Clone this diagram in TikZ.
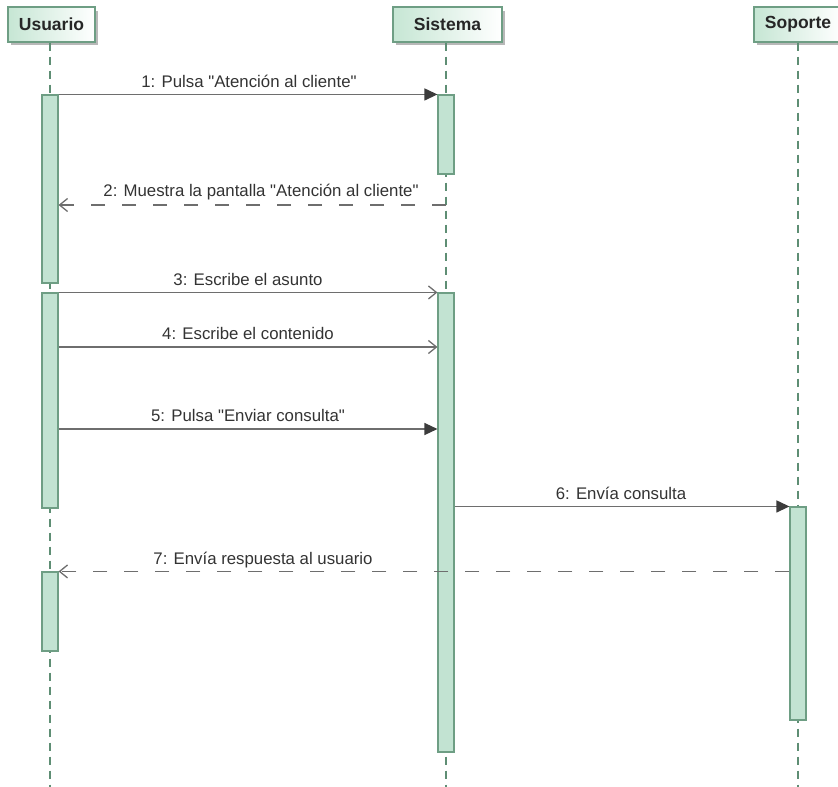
\documentclass[tikz,border=0pt]{standalone}
\usepackage{fontspec}
\setmainfont{Liberation Sans}[Ligatures=TeXOff]
\usetikzlibrary{arrows.meta,calc}

\definecolor{barfill}{HTML}{C2E3D2}
\definecolor{barline}{HTML}{6E9E84}
\definecolor{headfill}{HTML}{C6E6D4}
\definecolor{lifecol}{HTML}{5E8E74}
\definecolor{msgcol}{HTML}{6E6E6E}
\definecolor{tipcol}{HTML}{3C3C3C}
\definecolor{txtcol}{HTML}{333333}

\tikzset{
  header/.style={draw=barline, line width=1.2pt, left color=headfill, right color=white,
    minimum height=35pt, inner sep=0pt, text=black!85,
    font=\fontsize{17.5}{20}\selectfont\bfseries},
  headshadow/.style={fill=black!28, draw=none},
  lifeline/.style={draw=lifecol, line width=1.3pt, dash pattern=on 8pt off 6pt},
  bar/.style={draw=barline, fill=barfill, line width=1.1pt, minimum width=16pt, inner sep=0pt},
  call/.style={draw=msgcol, line width=1.3pt, -{Triangle[length=13pt,width=12pt,fill=tipcol,color=tipcol]}},
  callopen/.style={draw=msgcol, line width=1.3pt, -{Straight Barb[length=8pt,width=13pt,line width=1.3pt]}},
  reply/.style={draw=msgcol, line width=1.3pt, dash pattern=on 14pt off 17pt,
    -{Straight Barb[length=8pt,width=13pt,line width=1.3pt]}},
  msglabel/.style={anchor=base, inner sep=0pt, text=txtcol, font=\fontsize{16.8}{19}\selectfont}
}

\begin{document}
\begin{tikzpicture}[x=1pt,y=-1pt]
\useasboundingbox (0,0) rectangle (838,787);
\clip (0,0) rectangle (838,787);

% header boxes with their drop shadows
\fill[headshadow] (11,11) rectangle (98,45);
\fill[headshadow] (396,11) rectangle (505,45);
\fill[headshadow] (757,11) rectangle (845,45);
\node[header, minimum width=87pt] (usuario) at (51.5,24.5) {Usuario};
\node[header, minimum width=109pt] (sistema) at (447.5,24.5) {Sistema};
\node[header, minimum width=88pt] (soporte) at (798,24.5) {Soporte};

% lifelines
\coordinate (uend) at (50,787);
\coordinate (send) at (446,787);
\coordinate (pend) at (798,787);
\draw[lifeline] (usuario.south -| uend) -- (uend);
\draw[lifeline] (sistema.south -| send) -- (send);
\draw[lifeline] (soporte.south -| pend) -- (pend);

% activation bars
\node[bar, minimum height=188pt] (u1) at (50,189) {};
\node[bar, minimum height=215pt] (u2) at (50,400.5) {};
\node[bar, minimum height=79pt]  (u3) at (50,611.5) {};
\node[bar, minimum height=79pt]  (s1) at (446,134.5) {};
\node[bar, minimum height=459pt] (s2) at (446,522.5) {};
\node[bar, minimum height=213pt] (p1) at (798,613.5) {};

% message levels
\coordinate (m2) at (446,205);
\coordinate (m4) at (0,347);
\coordinate (m5) at (0,429);

% messages
\draw[call] (u1.north east) -- (s1.north west);
\draw[reply] (m2) -- (m2 -| u1.east);
\draw[callopen] (u2.north east) -- (s2.north west);
\draw[callopen] (u2.east |- m4) -- (s2.west |- m4);
\draw[call] (u2.east |- m5) -- (s2.west |- m5);
\draw[call] (s2.east |- p1.north) -- (p1.north west);
\draw[reply] (p1.west |- u3.north) -- (u3.north east);

% message labels
\node[msglabel] (l1) at (249,87) {1: Pulsa "Atención al cliente"};
\node[msglabel] (l2) at (261,196) {2: Muestra la pantalla "Atención al cliente"};
\node[msglabel] (l3) at (248,285) {3: Escribe el asunto};
\node[msglabel] (l4) at (248,339) {4: Escribe el contenido};
\node[msglabel] (l5) at (248,421) {5: Pulsa "Enviar consulta"};
\node[msglabel] (l6) at (621,499) {6: Envía consulta};
\node[msglabel] (l7) at (263,564) {7: Envía respuesta al usuario};
\end{tikzpicture}
\end{document}
